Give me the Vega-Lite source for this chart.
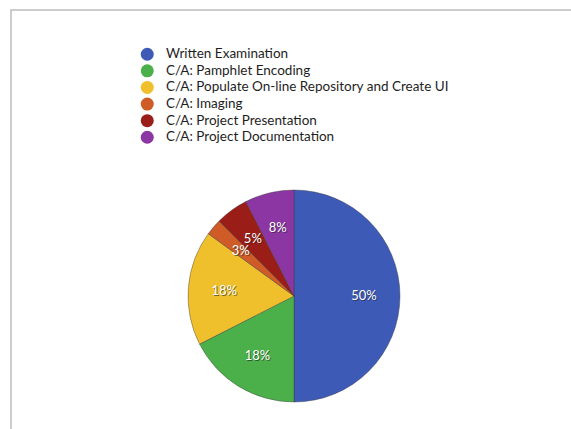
{
  "$schema": "https://vega.github.io/schema/vega-lite/v6.json",
  "width": 566,
  "height": 572,
  "padding": {"left": 11, "top": 10, "right": 0, "bottom": 0},
  "autosize": {"type": "none"},
  "background": "white",
  "view": {"stroke": "#bdbdbd", "strokeWidth": 1.5, "fill": "white"},
  "config": {
    "view": {"stroke": "#bdbdbd", "strokeWidth": 1.5},
    "legend": {"padding": 0}
  },
  "data": {
    "values": [
      {"task": "Written Examination", "share": 50, "label": "50%", "rank": 1},
      {"task": "C/A: Pamphlet Encoding", "share": 17.5, "label": "18%", "rank": 2},
      {"task": "C/A: Populate On-line Repository and Create UI", "share": 17.5, "label": "18%", "rank": 3},
      {"task": "C/A: Imaging", "share": 2.5, "label": "3%", "rank": 4},
      {"task": "C/A: Project Presentation", "share": 5, "label": "5%", "rank": 5},
      {"task": "C/A: Project Documentation", "share": 7.5, "label": "8%", "rank": 6}
    ]
  },
  "encoding": {
    "theta": {"field": "share", "type": "quantitative", "stack": true},
    "order": {"field": "rank", "type": "ordinal"}
  },
  "layer": [
    {
      "mark": {"type": "arc", "outerRadius": 106, "stroke": "#3a3a3a", "strokeWidth": 0.6, "strokeOpacity": 0.7},
      "encoding": {
        "color": {
          "field": "task",
          "type": "nominal",
          "scale": {
            "domain": ["Written Examination", "C/A: Pamphlet Encoding", "C/A: Populate On-line Repository and Create UI", "C/A: Imaging", "C/A: Project Presentation", "C/A: Project Documentation"],
            "range": ["#3d5bb6", "#4cb04a", "#f0c02c", "#cf5c26", "#9b1d18", "#8b36a2"]
          },
          "legend": {
            "title": null,
            "orient": "none",
            "legendX": 129.5,
            "legendY": 37.5,
            "symbolType": "circle",
            "symbolSize": 169,
            "symbolStrokeWidth": 0,
            "symbolOpacity": 1,
            "labelFont": "Lato",
            "labelFontSize": 13.5,
            "labelColor": "#1e1e1e",
            "labelOffset": 12,
            "rowPadding": 1.6,
            "labelLimit": 400
          }
        }
      }
    },
    {
      "mark": {"type": "text", "radius": 70, "fill": "#222222", "fillOpacity": 0.6, "fontSize": 13, "font": "Lato", "dx": 1, "dy": 1},
      "encoding": {"text": {"field": "label"}}
    },
    {
      "mark": {"type": "text", "radius": 70, "fill": "white", "fontSize": 13, "font": "Lato"},
      "encoding": {"text": {"field": "label"}}
    }
  ]
}
